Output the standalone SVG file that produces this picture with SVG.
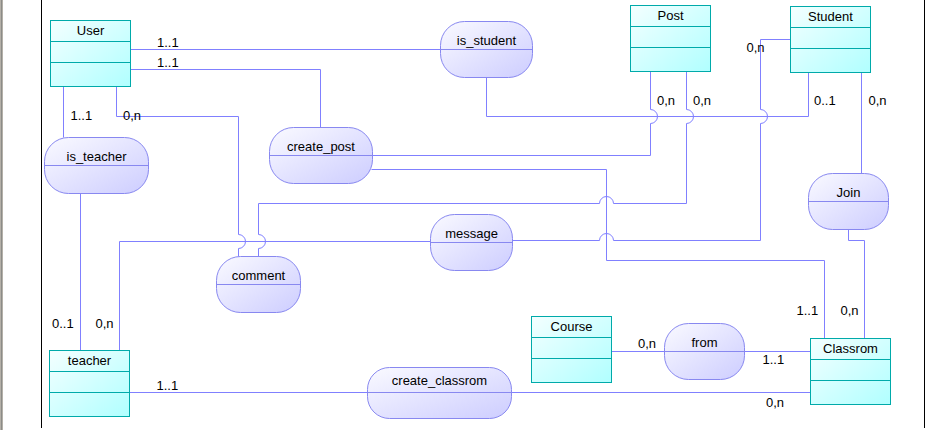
<svg xmlns="http://www.w3.org/2000/svg" width="932" height="430" viewBox="0 0 932 430">
<defs>
<linearGradient id="gEnt" x1="0" y1="0" x2="1" y2="1">
<stop offset="0" stop-color="#F4FFFF"/>
<stop offset="1" stop-color="#B0FFFF"/>
</linearGradient>
<linearGradient id="gRel" x1="0" y1="0" x2="1" y2="1">
<stop offset="0" stop-color="#FAFAFF"/>
<stop offset="1" stop-color="#CDCDFF"/>
</linearGradient>
<style>
.ent{fill:url(#gEnt);stroke:#00AAAA;stroke-width:1}
.entl{stroke:#00AAAA;stroke-width:1;fill:none}
.rel{fill:url(#gRel);stroke:#8888F0;stroke-width:1}
.rell{stroke:#8888F0;stroke-width:1;fill:none}
.con{fill:none;stroke:#8080FF;stroke-width:1}
text{font-family:"Liberation Sans",Arial,sans-serif;font-size:13px;fill:#000}
.t{text-anchor:middle}
</style>
</defs>
<rect x="0" y="0" width="932" height="430" fill="#FFFFFF"/>
<rect x="0" y="0" width="3" height="430" fill="#B4B0A8"/>
<line x1="1.5" y1="0" x2="1.5" y2="430" stroke="#8C8C88"/>
<line x1="41.5" y1="0" x2="41.5" y2="428" stroke="#000"/>
<line x1="924.5" y1="0" x2="924.5" y2="428" stroke="#000"/>

<g id="connectors">
<path class="con" d="M130.5,49.5 H440.5"/>
<path class="con" d="M130.5,69.5 H320.5 V127.5"/>
<path class="con" d="M63.5,86.5 V137.5"/>
<path class="con" d="M116.5,86.5 V116.5 H238.5 V234.5 A7,7 0 0 1 238.5,248.5 V256.5"/>
<path class="con" d="M258.5,256.5 V248.5 A7,7 0 0 0 258.5,234.5 V203.5 H599.5 A7,7 0 0 1 613.5,203.5 H686.5 V123.5 A7,7 0 0 0 686.5,109.5 V71.5"/>
<path class="con" d="M372.5,155.5 H650.5 V123.5 A7,7 0 0 0 650.5,109.5 V71.5"/>
<path class="con" d="M371.5,169.5 H606.5 V260.5 H824.5 V338.5"/>
<path class="con" d="M486.5,77.5 V116.5 H808.5 V72.5"/>
<path class="con" d="M790.5,39.5 H760.5 V109.5 A7,7 0 0 1 760.5,123.5 V240.5 H613.5 A7,7 0 0 0 599.5,240.5 H512.5"/>
<path class="con" d="M861.5,72.5 V173.5"/>
<path class="con" d="M848.5,229.5 V240.5 H864.5 V338.5"/>
<path class="con" d="M80.5,193.5 V350.5"/>
<path class="con" d="M430.5,241.5 H119.5 V350.5"/>
<path class="con" d="M129.5,392.5 H367.5"/>
<path class="con" d="M511.5,392.5 H810.5"/>
<path class="con" d="M611.5,351.5 H664.5"/>
<path class="con" d="M744.5,351.5 H810.5"/>
</g>

<g id="labels">
<text x="157" y="46.5">1..1</text>
<text x="157" y="66.5">1..1</text>
<text x="70.5" y="120">1..1</text>
<text x="123" y="120">0,n</text>
<text x="657" y="105">0,n</text>
<text x="693" y="105">0,n</text>
<text x="746.5" y="52">0,n</text>
<text x="814" y="105">0..1</text>
<text x="868.5" y="105">0,n</text>
<text x="52" y="327.5">0..1</text>
<text x="95.5" y="327.5">0,n</text>
<text x="156.5" y="390">1..1</text>
<text x="796.5" y="315">1..1</text>
<text x="840.5" y="315">0,n</text>
<text x="638" y="348">0,n</text>
<text x="762.5" y="364">1..1</text>
<text x="766" y="406.5">0,n</text>
</g>

<g id="User">
<rect class="ent" x="50.5" y="20.5" width="80" height="66"/>
<path class="entl" d="M50.5,41.5 H130.5 M50.5,62.5 H130.5"/>
<text class="t" x="90.5" y="35">User</text>
</g>
<g id="Post">
<rect class="ent" x="630.5" y="5.5" width="80" height="66"/>
<path class="entl" d="M630.5,26.5 H710.5 M630.5,47.5 H710.5"/>
<text class="t" x="670.5" y="20">Post</text>
</g>
<g id="Student">
<rect class="ent" x="790.5" y="6.5" width="80" height="66"/>
<path class="entl" d="M790.5,27.5 H870.5 M790.5,48.5 H870.5"/>
<text class="t" x="830.5" y="21">Student</text>
</g>
<g id="teacher">
<rect class="ent" x="49.5" y="350.5" width="80" height="66"/>
<path class="entl" d="M49.5,371.5 H129.5 M49.5,392.5 H129.5"/>
<text class="t" x="89.5" y="365">teacher</text>
</g>
<g id="Course">
<rect class="ent" x="531.5" y="316.5" width="80" height="66"/>
<path class="entl" d="M531.5,337.5 H611.5 M531.5,358.5 H611.5"/>
<text class="t" x="571.5" y="331">Course</text>
</g>
<g id="Classrom">
<rect class="ent" x="810.5" y="338.5" width="80" height="66"/>
<path class="entl" d="M810.5,359.5 H890.5 M810.5,380.5 H890.5"/>
<text class="t" x="850.5" y="353">Classrom</text>
</g>

<g id="is_student">
<rect class="rel" x="440.5" y="21.5" width="92" height="56" rx="24" ry="24"/>
<path class="rell" d="M440.5,49.5 H532.5"/>
<text class="t" x="486.5" y="44.5">is_student</text>
</g>
<g id="is_teacher">
<rect class="rel" x="44.5" y="137.5" width="104" height="56" rx="24" ry="24"/>
<path class="rell" d="M44.5,165.5 H148.5"/>
<text class="t" x="96.5" y="160.5">is_teacher</text>
</g>
<g id="create_post">
<rect class="rel" x="269.5" y="127.5" width="103" height="56" rx="24" ry="24"/>
<path class="rell" d="M269.5,155.5 H372.5"/>
<text class="t" x="321" y="150.5">create_post</text>
</g>
<g id="comment">
<rect class="rel" x="216.5" y="256.5" width="84" height="56" rx="24" ry="24"/>
<path class="rell" d="M216.5,284.5 H300.5"/>
<text class="t" x="258.5" y="279.5">comment</text>
</g>
<g id="message">
<rect class="rel" x="430.5" y="214.5" width="82" height="56" rx="24" ry="24"/>
<path class="rell" d="M430.5,242.5 H512.5"/>
<text class="t" x="471.5" y="237.5">message</text>
</g>
<g id="create_classrom">
<rect class="rel" x="367.5" y="367.5" width="144" height="51" rx="22" ry="22"/>
<path class="rell" d="M367.5,392.5 H511.5"/>
<text class="t" x="439.5" y="385">create_classrom</text>
</g>
<g id="from">
<rect class="rel" x="664.5" y="323.5" width="80" height="56" rx="24" ry="24"/>
<path class="rell" d="M664.5,351.5 H744.5"/>
<text class="t" x="704.5" y="346.5">from</text>
</g>
<g id="Join">
<rect class="rel" x="808.5" y="173.5" width="80" height="56" rx="24" ry="24"/>
<path class="rell" d="M808.5,201.5 H888.5"/>
<text class="t" x="848.5" y="196.5">Join</text>
</g>
</svg>
